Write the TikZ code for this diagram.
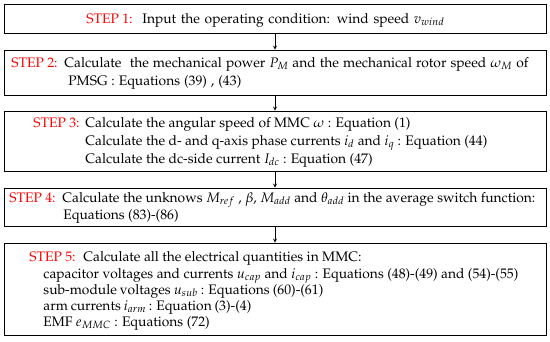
\documentclass[tikz,border=0pt]{standalone}
\usepackage[T1]{fontenc}
\usepackage{mathpazo}
\usepackage{xcolor}
\usepackage{graphicx}
\newcommand{\spreadto}[2]{\makebox[#1][s]{#2}}
\tikzset{
  stepbox/.style={draw, rectangle, minimum width=542pt, inner sep=0pt},
  steplabel/.style={anchor=base west, inner sep=0pt, text=red, font=\fontsize{13.8}{16}\selectfont},
  txt/.style={anchor=base west, inner sep=0pt, font=\fontsize{13.8}{16}\selectfont}
}
\begin{document}
\begin{tikzpicture}[>=stealth, thick, x=1pt, y=-1pt]
\useasboundingbox (0,0) rectangle (550,341);
\node[stepbox, minimum height=29pt] (b1) at (275,18.5) {};
\node[stepbox, minimum height=45pt] (b2) at (275,72.5) {};
\node[stepbox, minimum height=60pt] (b3) at (275,141) {};
\node[stepbox, minimum height=38pt] (b4) at (275,207) {};
\node[stepbox, minimum height=92pt] (b5) at (275,289) {};
\draw[->] (b1) -- (b2);
\draw[->] (b2) -- (b3);
\draw[->] (b3) -- (b4);
\draw[->] (b4) -- (b5);
% step 1
\node[steplabel] (l1) at (86,23) {STEP 1:};
\node[txt] (t1) at (142,23) {\spreadto{302pt}{Input the operating condition: wind speed $v_{wind}$}};
% step 2
\node[steplabel] (l2) at (11,67) {STEP 2:};
\node[txt] (t2a) at (64,67) {\spreadto{464pt}{Calculate\ \ the mechanical power $P_M$ and the mechanical rotor speed $\omega_M$ of}};
\node[txt] (t2b) at (68,85) {\spreadto{173pt}{PMSG : Equations (39) , (43)}};
% step 3
\node[steplabel] (l3) at (33,127) {STEP 3:};
\node[txt] (t3a) at (85,127) {Calculate the angular speed of MMC $\omega$ : Equation (1)};
\node[txt] (t3b) at (85,145) {Calculate the d- and q-axis phase currents $i_d$ and $i_q$ : Equation (44)};
\node[txt] (t3c) at (85,163) {Calculate the dc-side current $I_{dc}$ : Equation (47)};
% step 4
\node[steplabel] (l4) at (9,202) {STEP 4:};
\node[txt] (t4a) at (62,202) {\spreadto{473pt}{Calculate the unknows $M_{ref}$ , $\beta$, $M_{add}$ and $\theta_{add}$ in the average switch function:}};
\node[txt] (t4b) at (63,219) {Equations (83)-(86)};
% step 5
\node[steplabel] (l5) at (29,261) {STEP 5:};
\node[txt] (t5a) at (83,261) {Calculate all the electrical quantities in MMC:};
\node[txt] (t5b) at (43,278) {\resizebox{475pt}{\height}{capacitor voltages and currents $u_{cap}$ and $i_{cap}$ : Equations (48)-(49) and (54)-(55)}};
\node[txt] (t5c) at (43,294) {\spreadto{280pt}{sub-module voltages $u_{sub}$ : Equations (60)-(61)}};
\node[txt] (t5d) at (43,310) {\spreadto{208pt}{arm currents $i_{arm}$ : Equation (3)-(4)}};
\node[txt] (t5e) at (43,326) {EMF $e_{MMC}$ : Equations (72)};
\end{tikzpicture}
\end{document}
